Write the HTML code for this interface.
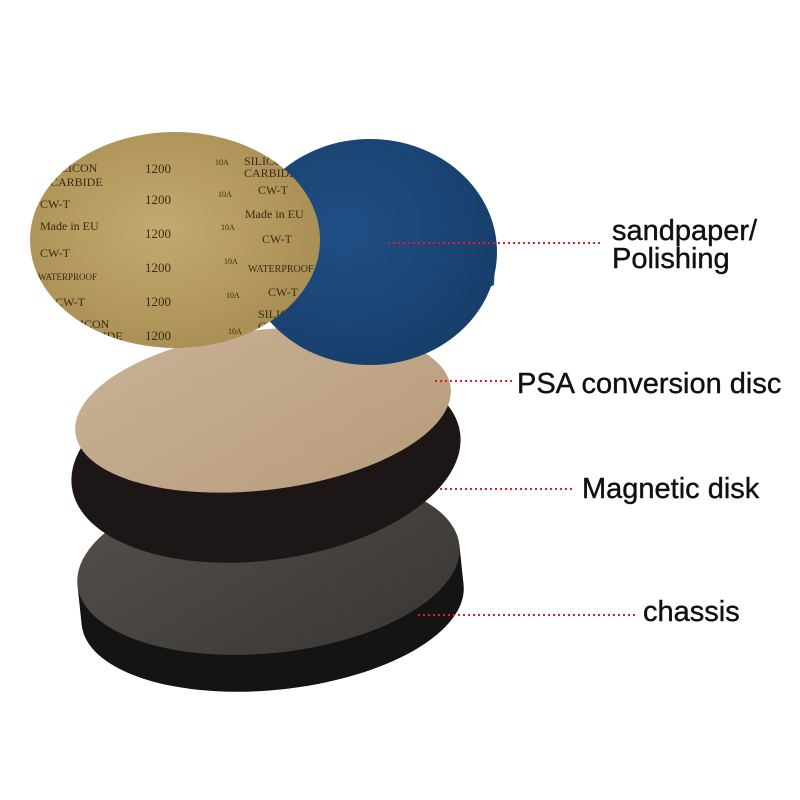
<!DOCTYPE html>
<html><head><meta charset="utf-8"><style>
html,body{margin:0;padding:0;background:#fff;width:800px;height:800px;overflow:hidden}
</style></head><body>
<svg width="800" height="800" viewBox="0 0 800 800" xmlns="http://www.w3.org/2000/svg" font-family="Liberation Sans, sans-serif">
<defs>
<radialGradient id="gold" cx="0.45" cy="0.45" r="0.6"><stop offset="0" stop-color="#c2aa6e"/><stop offset="1" stop-color="#a88e52"/></radialGradient>
<radialGradient id="blue" cx="0.4" cy="0.4" r="0.7"><stop offset="0" stop-color="#1f4f86"/><stop offset="1" stop-color="#173d68"/></radialGradient>
<linearGradient id="psa" x1="0" y1="0" x2="1" y2="1"><stop offset="0" stop-color="#c9b195"/><stop offset="1" stop-color="#b89c7c"/></linearGradient>
<linearGradient id="chtop" x1="0" y1="0" x2="1" y2="1"><stop offset="0" stop-color="#55504c"/><stop offset="1" stop-color="#3a3633"/></linearGradient>
<clipPath id="gc"><ellipse cx="175" cy="240" rx="145" ry="108"/></clipPath>
</defs>
<!-- chassis -->
<g transform="rotate(-6 270 580)">
<ellipse cx="270" cy="605" rx="192" ry="85" fill="#141414"/>
<rect x="78" y="565" width="384" height="40" fill="#141414"/>
<ellipse cx="270" cy="565" rx="192" ry="88" fill="url(#chtop)"/>
</g>
<!-- magnetic disk -->
<g transform="rotate(-8 266 460)">
<ellipse cx="266" cy="460" rx="196" ry="100" fill="#1c1716"/>
</g>
<!-- PSA -->
<g transform="rotate(-7 263 410)">
<ellipse cx="263" cy="410" rx="189" ry="80" fill="url(#psa)"/>
</g>
<!-- blue disc -->
<path d="M470 255 L495 262 L494 285 L480 292 Z" fill="#1b4a7e"/>
<ellipse cx="370" cy="252" rx="127" ry="113" fill="url(#blue)"/>
<!-- gold disc -->
<ellipse cx="175" cy="240" rx="145" ry="108" fill="url(#gold)"/>
<g clip-path="url(#gc)" font-family="Liberation Serif, serif" fill="#3a2c14" font-size="12">
<text x="145" y="173" font-size="13">1200</text>
<text x="215" y="165" font-size="8">10A</text>
<text x="50" y="172">SILICON</text><text x="50" y="186">CARBIDE</text>
<text x="244" y="165">SILICON</text><text x="244" y="177">CARBIDE</text>
<text x="145" y="204" font-size="13">1200</text>
<text x="218" y="197" font-size="8">10A</text>
<text x="258" y="194">CW-T</text>
<text x="40" y="208">CW-T</text>
<text x="40" y="230">Made in EU</text>
<text x="245" y="218">Made in EU</text>
<text x="145" y="238" font-size="13">1200</text>
<text x="221" y="230" font-size="8">10A</text>
<text x="262" y="243">CW-T</text>
<text x="40" y="257">CW-T</text>
<text x="145" y="272" font-size="13">1200</text>
<text x="224" y="264" font-size="8">10A</text>
<text x="248" y="272" font-size="10">WATERPROOF</text>
<text x="38" y="280" font-size="9">WATERPROOF</text>
<text x="145" y="306" font-size="13">1200</text>
<text x="226" y="298" font-size="8">10A</text>
<text x="268" y="296">CW-T</text>
<text x="55" y="306">CW-T</text>
<text x="62" y="328">SILICON</text><text x="70" y="340">CARBIDE</text>
<text x="258" y="318">SILICON</text><text x="258" y="330">CARBIDE</text>
<text x="145" y="340" font-size="13">1200</text>
<text x="228" y="334" font-size="8">10A</text>
</g>
<!-- dotted leader lines -->
<g stroke="#e02020" stroke-width="2" stroke-dasharray="2 3">
<line x1="388" y1="243" x2="602" y2="243"/>
<line x1="435" y1="381" x2="512" y2="381"/>
<line x1="440" y1="489" x2="572" y2="489"/>
<line x1="418" y1="615" x2="636" y2="615"/>
</g>
<g fill="#111" font-size="29" stroke="#111" stroke-width="0.4">
<text x="612" y="240">sandpaper/</text>
<text x="612" y="268">Polishing</text>
<text x="517" y="393">PSA conversion disc</text>
<text x="582" y="498">Magnetic disk</text>
<text x="643" y="621">chassis</text>
</g>
</svg>
</body></html>
